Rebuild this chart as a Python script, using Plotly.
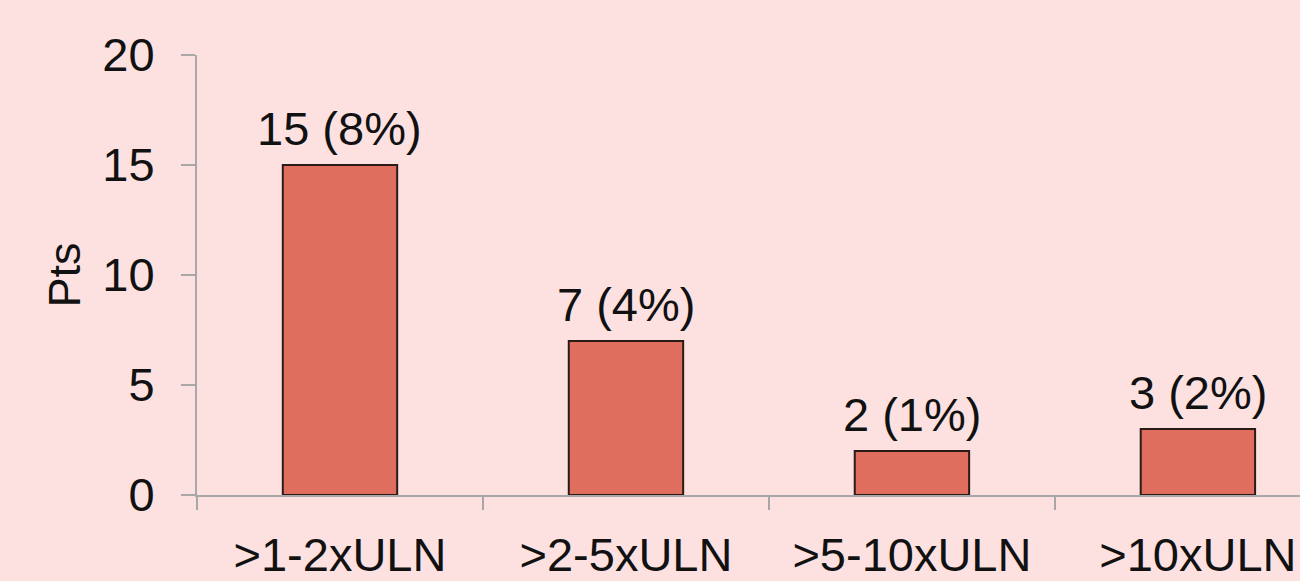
import plotly.graph_objects as go

categories = [">1-2xULN", ">2-5xULN", ">5-10xULN", ">10xULN"]
patients = [15, 7, 2, 3]
percents = [8, 4, 1, 2]
y_ticks = [0, 5, 10, 15, 20]

labels = [f"{n} ({p}%)" for n, p in zip(patients, percents)]

BG = "#fde1e1"
FONT = "Liberation Sans, Arial, sans-serif"

fig = go.Figure(
    go.Bar(
        x=categories,
        y=patients,
        width=0.4,
        marker=dict(color="#df6e5f", line=dict(color="#2a1a18", width=2)),
    )
)

for c, n, lab in zip(categories, patients, labels):
    fig.add_annotation(
        x=c, y=n, text=lab, showarrow=False,
        yanchor="middle", yshift=37,
        font=dict(family=FONT, size=47, color="#111111"),
    )

fig.update_layout(
    width=1300,
    height=581,
    paper_bgcolor=BG,
    plot_bgcolor=BG,
    margin=dict(l=197, r=0, t=55, b=86),
    font=dict(family=FONT, size=47, color="#111111"),
    showlegend=False,
)

fig.update_xaxes(
    type="category",
    range=[-0.5, 3.357],
    tickson="boundaries",
    ticks="outside",
    ticklen=13,
    tickwidth=2,
    tickcolor="#a8a8a8",
    showline=True,
    linecolor="#a8a8a8",
    linewidth=2,
    showgrid=False,
    tickfont=dict(family=FONT, size=47, color="#111111"),
    ticklabelstandoff=18,
)

fig.update_yaxes(
    range=[0, 20],
    tickmode="array",
    tickvals=y_ticks,
    ticks="outside",
    ticklen=14,
    tickwidth=2,
    tickcolor="#a8a8a8",
    showline=True,
    linecolor="#a8a8a8",
    linewidth=2,
    showgrid=False,
    zeroline=False,
    tickfont=dict(family=FONT, size=47, color="#111111"),
    ticklabelstandoff=17,
    title=dict(text="Pts", font=dict(family=FONT, size=45, color="#111111"), standoff=8),
)

fig.write_html("out.html")
